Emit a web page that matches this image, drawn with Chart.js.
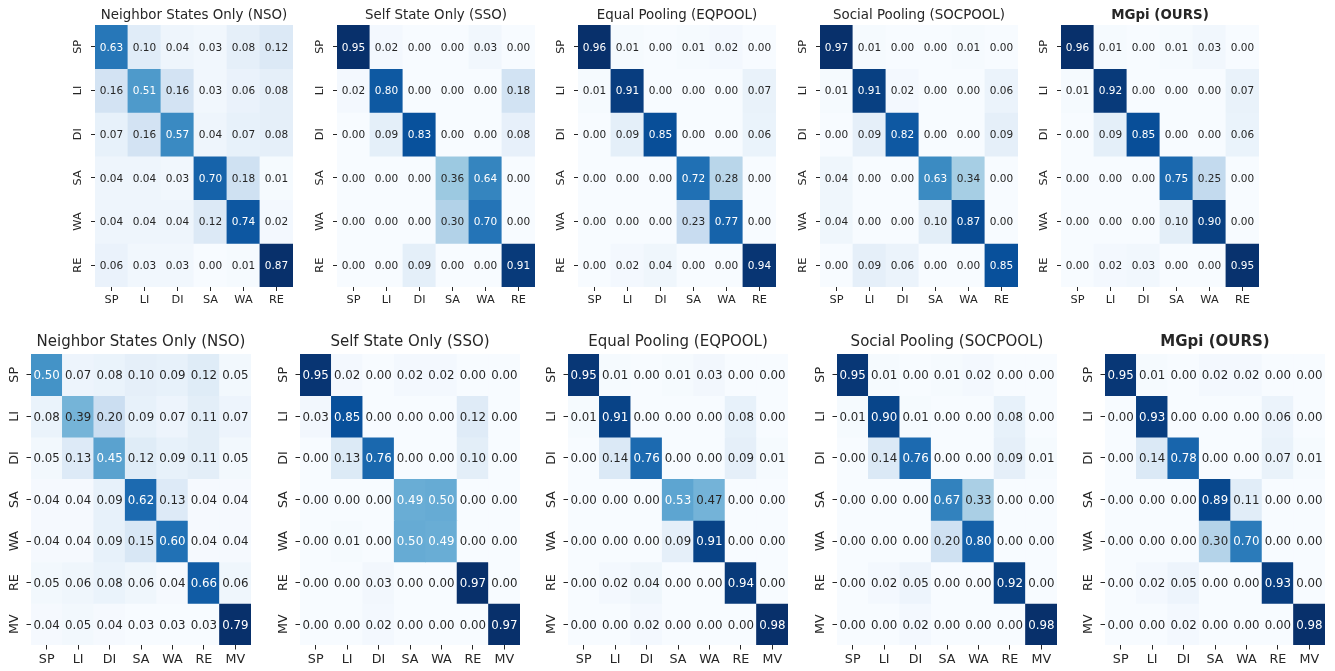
<!DOCTYPE html>
<html>
<head>
<meta charset="utf-8">
<script src="https://cdn.jsdelivr.net/npm/chart.js@4.4.1/dist/chart.umd.min.js"></script>
<style>
  html, body { margin: 0; padding: 0; background: #ffffff; }
  body { width: 1335px; height: 671px; position: relative; overflow: hidden; }
  canvas { position: absolute; }
</style>
</head>
<body>
<script>
// ---- class labels ----
const classes6 = ['SP', 'LI', 'DI', 'SA', 'WA', 'RE'];
const classes7 = ['SP', 'LI', 'DI', 'SA', 'WA', 'RE', 'MV'];

const titles = [
  'Neighbor States Only (NSO)',
  'Self State Only (SSO)',
  'Equal Pooling (EQPOOL)',
  'Social Pooling (SOCPOOL)',
  'MGpi (OURS)'
];

// ---- confusion matrices, 6 classes (rows = true, cols = predicted) ----
const nso6 = [
  [0.63, 0.10, 0.04, 0.03, 0.08, 0.12],
  [0.16, 0.51, 0.16, 0.03, 0.06, 0.08],
  [0.07, 0.16, 0.57, 0.04, 0.07, 0.08],
  [0.04, 0.04, 0.03, 0.70, 0.18, 0.01],
  [0.04, 0.04, 0.04, 0.12, 0.74, 0.02],
  [0.06, 0.03, 0.03, 0.00, 0.01, 0.87]
];
const sso6 = [
  [0.95, 0.02, 0.00, 0.00, 0.03, 0.00],
  [0.02, 0.80, 0.00, 0.00, 0.00, 0.18],
  [0.00, 0.09, 0.83, 0.00, 0.00, 0.08],
  [0.00, 0.00, 0.00, 0.36, 0.64, 0.00],
  [0.00, 0.00, 0.00, 0.30, 0.70, 0.00],
  [0.00, 0.00, 0.09, 0.00, 0.00, 0.91]
];
const eqpool6 = [
  [0.96, 0.01, 0.00, 0.01, 0.02, 0.00],
  [0.01, 0.91, 0.00, 0.00, 0.00, 0.07],
  [0.00, 0.09, 0.85, 0.00, 0.00, 0.06],
  [0.00, 0.00, 0.00, 0.72, 0.28, 0.00],
  [0.00, 0.00, 0.00, 0.23, 0.77, 0.00],
  [0.00, 0.02, 0.04, 0.00, 0.00, 0.94]
];
const socpool6 = [
  [0.97, 0.01, 0.00, 0.00, 0.01, 0.00],
  [0.01, 0.91, 0.02, 0.00, 0.00, 0.06],
  [0.00, 0.09, 0.82, 0.00, 0.00, 0.09],
  [0.04, 0.00, 0.00, 0.63, 0.34, 0.00],
  [0.04, 0.00, 0.00, 0.10, 0.87, 0.00],
  [0.00, 0.09, 0.06, 0.00, 0.00, 0.85]
];
const mgpi6 = [
  [0.96, 0.01, 0.00, 0.01, 0.03, 0.00],
  [0.01, 0.92, 0.00, 0.00, 0.00, 0.07],
  [0.00, 0.09, 0.85, 0.00, 0.00, 0.06],
  [0.00, 0.00, 0.00, 0.75, 0.25, 0.00],
  [0.00, 0.00, 0.00, 0.10, 0.90, 0.00],
  [0.00, 0.02, 0.03, 0.00, 0.00, 0.95]
];

// ---- confusion matrices, 7 classes ----
const nso7 = [
  [0.50, 0.07, 0.08, 0.10, 0.09, 0.12, 0.05],
  [0.08, 0.39, 0.20, 0.09, 0.07, 0.11, 0.07],
  [0.05, 0.13, 0.45, 0.12, 0.09, 0.11, 0.05],
  [0.04, 0.04, 0.09, 0.62, 0.13, 0.04, 0.04],
  [0.04, 0.04, 0.09, 0.15, 0.60, 0.04, 0.04],
  [0.05, 0.06, 0.08, 0.06, 0.04, 0.66, 0.06],
  [0.04, 0.05, 0.04, 0.03, 0.03, 0.03, 0.79]
];
const sso7 = [
  [0.95, 0.02, 0.00, 0.02, 0.02, 0.00, 0.00],
  [0.03, 0.85, 0.00, 0.00, 0.00, 0.12, 0.00],
  [0.00, 0.13, 0.76, 0.00, 0.00, 0.10, 0.00],
  [0.00, 0.00, 0.00, 0.49, 0.50, 0.00, 0.00],
  [0.00, 0.01, 0.00, 0.50, 0.49, 0.00, 0.00],
  [0.00, 0.00, 0.03, 0.00, 0.00, 0.97, 0.00],
  [0.00, 0.00, 0.02, 0.00, 0.00, 0.00, 0.97]
];
const eqpool7 = [
  [0.95, 0.01, 0.00, 0.01, 0.03, 0.00, 0.00],
  [0.01, 0.91, 0.00, 0.00, 0.00, 0.08, 0.00],
  [0.00, 0.14, 0.76, 0.00, 0.00, 0.09, 0.01],
  [0.00, 0.00, 0.00, 0.53, 0.47, 0.00, 0.00],
  [0.00, 0.00, 0.00, 0.09, 0.91, 0.00, 0.00],
  [0.00, 0.02, 0.04, 0.00, 0.00, 0.94, 0.00],
  [0.00, 0.00, 0.02, 0.00, 0.00, 0.00, 0.98]
];
const socpool7 = [
  [0.95, 0.01, 0.00, 0.01, 0.02, 0.00, 0.00],
  [0.01, 0.90, 0.01, 0.00, 0.00, 0.08, 0.00],
  [0.00, 0.14, 0.76, 0.00, 0.00, 0.09, 0.01],
  [0.00, 0.00, 0.00, 0.67, 0.33, 0.00, 0.00],
  [0.00, 0.00, 0.00, 0.20, 0.80, 0.00, 0.00],
  [0.00, 0.02, 0.05, 0.00, 0.00, 0.92, 0.00],
  [0.00, 0.00, 0.02, 0.00, 0.00, 0.00, 0.98]
];
const mgpi7 = [
  [0.95, 0.01, 0.00, 0.02, 0.02, 0.00, 0.00],
  [0.00, 0.93, 0.00, 0.00, 0.00, 0.06, 0.00],
  [0.00, 0.14, 0.78, 0.00, 0.00, 0.07, 0.01],
  [0.00, 0.00, 0.00, 0.89, 0.11, 0.00, 0.00],
  [0.00, 0.00, 0.00, 0.30, 0.70, 0.00, 0.00],
  [0.00, 0.02, 0.05, 0.00, 0.00, 0.93, 0.00],
  [0.00, 0.00, 0.02, 0.00, 0.00, 0.00, 0.98]
];

// ---- colour map: sequential "Blues" (9 anchor colours, 256-step table) ----
const BLUES = [
  [247, 251, 255], [222, 235, 247], [198, 219, 239], [158, 202, 225], [107, 174, 214],
  [66, 146, 198], [33, 113, 181], [8, 81, 156], [8, 48, 107]
];
function blues(t) {
  t = Math.min(1, Math.max(0, t));
  const idx = Math.min(255, Math.floor(t * 256));
  const s = (idx / 255) * 8;
  const i = Math.min(7, Math.floor(s));
  const f = s - i;
  return BLUES[i].map((c, k) => c + (BLUES[i + 1][k] - c) * f);
}
function luminance(rgb) {
  const lin = rgb.map(c => {
    c = c / 255;
    return c <= 0.03928 ? c / 12.92 : Math.pow((c + 0.055) / 1.055, 2.4);
  });
  return 0.2126 * lin[0] + 0.7152 * lin[1] + 0.0722 * lin[2];
}
const css = rgb => `rgb(${rgb.map(Math.round).join(',')})`;

const INK = '#262626';
Chart.defaults.font.family = "'DejaVu Sans', sans-serif";

// draws the two-decimal value on every cell
const cellText = {
  id: 'cellText',
  afterDatasetsDraw(chart, args, opts) {
    const ctx = chart.ctx;
    ctx.save();
    ctx.font = `${opts.size}px 'DejaVu Sans', sans-serif`;
    ctx.textAlign = 'center';
    ctx.textBaseline = 'alphabetic';
    chart.data.datasets.forEach((ds, r) => {
      const meta = chart.getDatasetMeta(r);
      meta.data.forEach((bar, c) => {
        const p = bar.getCenterPoint();
        ctx.fillStyle = ds.textColors[c];
        ctx.fillText(ds.values[c].toFixed(2), p.x, p.y + 0.3645 * opts.size);
      });
    });
    ctx.restore();
  }
};

function measure(text, size) {
  const m = document.createElement('canvas').getContext('2d');
  m.font = `${size}px 'DejaVu Sans', sans-serif`;
  return m.measureText(text).width;
}

function heatmap(matrix, labels, title, bold, g) {
  const n = labels.length;
  const flat = matrix.flat();
  const vmin = Math.min(...flat), vmax = Math.max(...flat);
  const M = g.margin;

  const canvas = document.createElement('canvas');
  const cw = g.w + 2 * M, ch = g.band + g.h + g.xh;
  canvas.width = cw; canvas.height = ch;
  canvas.style.width = cw + 'px'; canvas.style.height = ch + 'px';
  canvas.style.left = Math.round(g.x - M) + 'px';
  canvas.style.top = g.top + 'px';
  document.body.appendChild(canvas);

  const datasets = matrix.map((row, r) => {
    const cols = row.map(v => blues((v - vmin) / (vmax - vmin)));
    return {
      data: row.map(() => [r, r + 1]),
      values: row,
      backgroundColor: cols.map(css),
      textColors: cols.map(c => luminance(c) > 0.408 ? INK : '#ffffff'),
      grouped: false,
      barPercentage: 1,
      categoryPercentage: 1,
      borderWidth: 0,
      borderSkipped: false,
      inflateAmount: 0.4
    };
  });

  const widest = Math.max(...labels.map(l => measure(l, g.tick)));
  const tickGrid = {
    display: true, drawOnChartArea: false, drawTicks: true,
    tickLength: g.tl, tickWidth: 1, tickColor: INK, offset: false
  };

  new Chart(canvas, {
    type: 'bar',
    data: { labels, datasets },
    options: {
      responsive: false,
      animation: false,
      devicePixelRatio: 1,
      events: [],
      layout: { padding: { left: 0, right: M, top: 0, bottom: 0 } },
      plugins: {
        legend: { display: false },
        tooltip: { enabled: false },
        title: {
          display: true,
          fullSize: false,
          text: title,
          color: INK,
          font: { size: g.titleSize, weight: bold ? 'bold' : 'normal', lineHeight: 1.2 },
          padding: { top: g.titlePadTop, bottom: g.band - g.titlePadTop - 1.2 * g.titleSize }
        },
        cellText: { size: g.cell }
      },
      scales: {
        x: {
          type: 'category',
          offset: true,
          grid: tickGrid,
          border: { display: false },
          ticks: { color: INK, font: { size: g.tick }, padding: g.xpad, autoSkip: false, maxRotation: 0 },
          afterFit: s => { s.height = g.xh; }
        },
        y: {
          type: 'linear',
          min: 0,
          max: n,
          reverse: true,
          grid: tickGrid,
          border: { display: false },
          ticks: {
            color: INK, font: { size: g.tick }, autoSkip: false,
            minRotation: 90, maxRotation: 90, crossAlign: 'center',
            padding: g.ylab - g.tl - widest / 2,
            callback: v => labels[Math.floor(v)]
          },
          afterBuildTicks: s => { s.ticks = labels.map((_, i) => ({ value: i + 0.5 })); },
          afterFit: s => { s.width = M; }
        }
      }
    },
    plugins: [cellText]
  });
}

// ---- top row: 6 classes ----
const top6 = [nso6, sso6, eqpool6, socpool6, mgpi6];
const topLefts = [95, 336.5, 578, 819.5, 1061];
top6.forEach((m, i) => heatmap(m, classes6, titles[i], i === 4, {
  x: topLefts[i], top: 0, w: 198, h: 262, band: 25, xh: 30, margin: 30,
  titleSize: 13.4, titlePadTop: 7.3, tick: 11.3, cell: 10.5, tl: 4, xpad: 2.2, ylab: 17
}));

// ---- bottom row: 7 classes ----
const bottom7 = [nso7, sso7, eqpool7, socpool7, mgpi7];
const bottomLefts = [31, 299.5, 568, 836.5, 1105];
bottom7.forEach((m, i) => heatmap(m, classes7, titles[i], i === 4, {
  x: bottomLefts[i], top: 320, w: 220, h: 291, band: 34, xh: 26, margin: 30,
  titleSize: 15, titlePadTop: 13.5, tick: 12.7, cell: 11.8, tl: 4.5, xpad: 2.9, ylab: 16
}));
</script>
</body>
</html>
